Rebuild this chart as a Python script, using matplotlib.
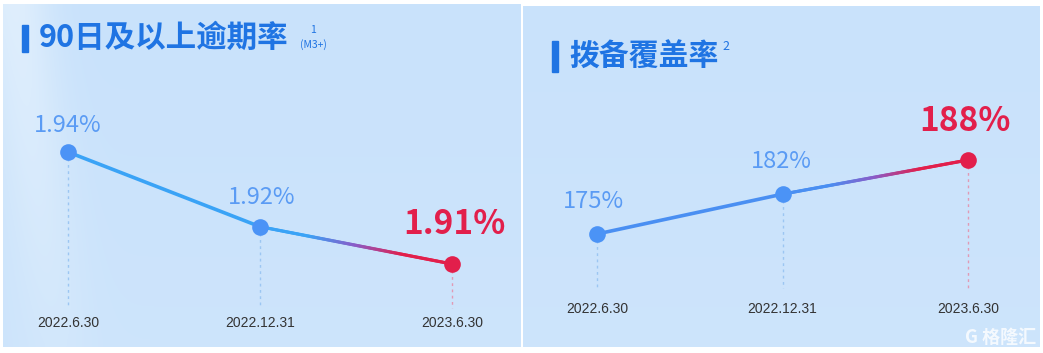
import numpy as np
import matplotlib.pyplot as plt
from matplotlib.collections import LineCollection
from matplotlib.colors import LinearSegmentedColormap, to_rgb
import matplotlib.transforms as mtransforms

plt.rcParams['font.family'] = ['Noto Sans CJK SC', 'DejaVu Sans']

dates = ["2022.6.30", "2022.12.31", "2023.6.30"]
npl_values = [1.94, 1.92, 1.91]
npl_labels = ["1.94%", "1.92%", "1.91%"]
cov_values = [175, 182, 188]
cov_labels = ["175%", "182%", "188%"]

BLUE_L = "#3aa3f6"
BLUE_R = "#4a8ff2"
DOT_BLUE = "#4b93f6"
LABEL_BLUE = "#5a9bf4"
RED = "#e21f4b"
TITLE = "#1f74e3"

W, H = 1043, 353


def px_axes(fig, x0, y0, x1, y1):
    # pixel box (top-down) -> figure axes
    return fig.add_axes([x0 / W, (H - y1) / H, (x1 - x0) / W, (y1 - y0) / H])


def background(ax, streak):
    ny, nx = 60, 200
    xx, yy = np.meshgrid(np.linspace(0, 1, nx), np.linspace(0, 1, ny))
    base = np.array(to_rgb("#c9e2fb"))
    light = np.array(to_rgb("#e4f1fd"))
    t = 0.15 * (1 - yy)
    if streak:
        s = np.exp(-((xx - 0.10 + 0.08 * yy) / 0.07) ** 2) * (0.25 + 0.75 * yy)
        t = np.clip(t + 0.8 * s, 0, 1)
    img = base[None, None, :] * (1 - t[..., None]) + light[None, None, :] * t[..., None]
    ax.imshow(img, extent=(0, 1, 0, 1), transform=ax.transAxes, aspect='auto',
              origin='lower', zorder=0, interpolation='bicubic')


def grad_line(ax, x0, y0, x1, y1, c0, c1):
    n = 120
    xs = np.linspace(x0, x1, n + 1)
    ys = np.linspace(y0, y1, n + 1)
    segs = np.stack([np.column_stack([xs[:-1], ys[:-1]]),
                     np.column_stack([xs[1:], ys[1:]])], axis=1)
    cmap = LinearSegmentedColormap.from_list("g", [c0, c0, "#8a5cc8", c1, c1])
    lc = LineCollection(segs, colors=cmap(np.linspace(0, 1, n)), linewidth=2.3,
                        zorder=3, capstyle='round')
    ax.add_collection(lc)


def panel(fig, box, xpix, ypix_top, ypix_bot, values, labels, line_color,
          ylo_pix, tick_pix, streak, label_off, big_off):
    x0, y0, x1, y1 = box
    ax = px_axes(fig, x0, y0, x1, y1)
    background(ax, streak)
    # map x positions 0..2 onto the pixel columns
    ppu = (xpix[1] - xpix[0]) / 2.0
    ax.set_xlim(-(xpix[0] - x0) / ppu, 2 + (x1 - xpix[1]) / ppu)
    vmax, vmin = max(values), min(values)
    vppu = (ypix_bot - ypix_top) / (vmax - vmin)
    ax.set_ylim(vmin - (y1 - ypix_bot) / vppu, vmax + (ypix_top - y0) / vppu)
    ax.axis('off')

    ymin, ymax = ax.get_ylim()
    ybot = ymin + (y1 - ylo_pix) / (y1 - y0) * (ymax - ymin)
    xs = [0, 1, 2]
    for i, v in enumerate(values):
        c = "#e19ab5" if i == 2 else "#9cc6f2"
        ax.plot([xs[i], xs[i]], [v, ybot], ls=(0, (2, 2.5)), lw=1.0, color=c, zorder=2)

    ax.plot(xs[:2], values[:2], color=line_color, lw=2.6, zorder=3,
            solid_capstyle='round')
    grad_line(ax, xs[1], values[1], xs[2], values[2], line_color, RED)
    ax.plot(xs[:2], values[:2], 'o', color=DOT_BLUE, ms=12, zorder=4, mec='none')
    ax.plot(xs[2], values[2], 'o', color=RED, ms=12, zorder=4, mec='none')

    trans = mtransforms.blended_transform_factory(ax.transData, ax.transAxes)
    for i, d in enumerate(dates):
        ax.text(xs[i], (y1 - tick_pix) / (y1 - y0), d, transform=trans,
                ha='center', va='center', fontsize=10, color="#333333",
                family=['Liberation Sans', 'DejaVu Sans'])

    off = mtransforms.offset_copy
    for i in range(2):
        ax.text(xs[i], values[i], labels[i], ha='center', va='baseline',
                fontsize=17, color=LABEL_BLUE,
                transform=off(ax.transData, fig=fig, x=label_off[i][0], y=label_off[i][1], units='dots'))
    ax.text(xs[2], values[2], labels[2], ha='center', va='baseline',
            fontsize=24, color=RED, fontweight='bold',
            transform=off(ax.transData, fig=fig, x=big_off[0], y=big_off[1], units='dots'))
    return ax


fig = plt.figure(figsize=(W / 100, H / 100), dpi=100, facecolor='white')

axL = panel(fig, (3, 4, 521, 347), (68, 452), 152, 264, npl_values, npl_labels,
            BLUE_L, 308, 323, True, [(0, 20), (2, 23)], (2, 30))
axR = panel(fig, (523, 6, 1040, 347), (597, 968), 160, 234, cov_values, cov_labels,
            BLUE_R, 288, 309, False, [(-4, 26), (-1, 26)], (-3, 29))

# titles
fig.patches.append(plt.Rectangle((22 / W, (H - 52) / H), 6 / W, 27 / H,
                                 transform=fig.transFigure, color=TITLE, zorder=5))
fig.text(39 / W, (H - 38) / H, "90日及以上逾期率", fontsize=22, fontweight='bold',
         color=TITLE, va='center', ha='left')
fig.text(313 / W, (H - 30) / H, "1", fontsize=7.5, color=TITLE, va='center', ha='center')
fig.text(313 / W, (H - 45) / H, "(M3+)", fontsize=7.5, color=TITLE, va='center', ha='center')

fig.patches.append(plt.Rectangle((552 / W, (H - 72) / H), 6 / W, 31 / H,
                                 transform=fig.transFigure, color=TITLE, zorder=5))
fig.text(569 / W, (H - 57) / H, "拨备覆盖率", fontsize=21.5, fontweight='bold',
         color=TITLE, va='center', ha='left')
fig.text(726 / W, (H - 47) / H, "2", fontsize=9, color=TITLE, va='center', ha='center')

# watermark
fig.text(1036 / W, (H - 337) / H, "G 格隆汇", fontsize=13, fontweight='bold',
         color='white', alpha=0.8, va='center', ha='right')

fig.savefig("out.png", dpi=100, facecolor='white')
